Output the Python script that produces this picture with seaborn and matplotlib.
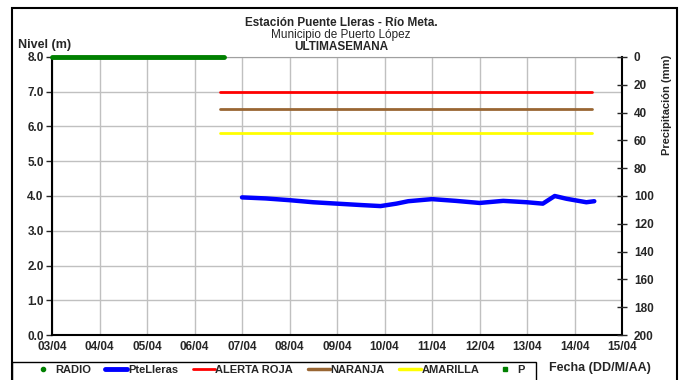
import pandas as pd
import seaborn as sns
import matplotlib.pyplot as plt
import matplotlib.dates as mdates
from matplotlib.lines import Line2D
from matplotlib.patches import Rectangle

# Nivel PteLleras (m)
nivel_fechas = ['2010-04-07 00:00', '2010-04-07 12:00', '2010-04-08 00:00', '2010-04-08 12:00',
                '2010-04-09 00:00', '2010-04-09 12:00', '2010-04-09 22:00', '2010-04-10 06:00',
                '2010-04-10 12:00', '2010-04-11 00:00', '2010-04-11 12:00', '2010-04-12 00:00',
                '2010-04-12 12:00', '2010-04-13 00:00', '2010-04-13 08:00', '2010-04-13 14:00',
                '2010-04-13 20:00', '2010-04-14 06:00', '2010-04-14 10:00']
nivel_valores = [3.96, 3.93, 3.88, 3.82, 3.78, 3.74, 3.71, 3.78, 3.85, 3.91, 3.86, 3.80,
                 3.86, 3.82, 3.78, 4.00, 3.92, 3.82, 3.85]

# Umbrales
umbral_fechas = ['2010-04-06 13:00', '2010-04-14 09:00']
alerta_roja = 7.0
naranja = 6.5
amarilla = 5.8

# Radio (linea verde superior)
radio_fechas = ['2010-04-03 00:00', '2010-04-06 15:00']
radio_valor = 8.0

ticks_x = pd.date_range('2010-04-03', '2010-04-15', freq='D')

sns.set_style('white')
plt.rcParams['font.family'] = ['Liberation Sans', 'DejaVu Sans']

fig = plt.figure(figsize=(6.82, 3.80), dpi=100)
ax = fig.add_axes([52 / 682, 45 / 380, 570 / 682, 278 / 380])

df_nivel = pd.DataFrame({'fecha': pd.to_datetime(nivel_fechas), 'nivel': nivel_valores})
df_radio = pd.DataFrame({'fecha': pd.to_datetime(radio_fechas), 'nivel': [radio_valor] * 2})
uf = pd.to_datetime(umbral_fechas)

for val, col in [(alerta_roja, '#ff0000'), (naranja, '#996633'), (amarilla, '#ffff00')]:
    sns.lineplot(x=uf, y=[val, val], color=col, lw=2, ax=ax)
sns.lineplot(data=df_nivel, x='fecha', y='nivel', color='#0000ff', lw=3.2, ax=ax)
sns.lineplot(data=df_radio, x='fecha', y='nivel', color='#008000', lw=3.5, ax=ax)
ax.lines[-1].set_clip_on(False)
ax.lines[-1].set_zorder(5)

ax.set_xlim(ticks_x[0], ticks_x[-1])
ax.set_ylim(0, 8)
ax.set_xticks(ticks_x)
ax.xaxis.set_major_formatter(mdates.DateFormatter('%d/%m'))
ax.set_yticks([i * 1.0 for i in range(9)])
ax.set_yticklabels([f'{i:.1f}' for i in range(9)])
ax.grid(True, color='#c0c0c0', lw=1)
ax.set_xlabel('')
ax.set_ylabel('')
for side in ['left', 'right', 'bottom']:
    ax.spines[side].set_color('black')
    ax.spines[side].set_linewidth(1.5)
ax.spines['top'].set_color('#a0a0a0')
ax.tick_params(axis='x', direction='inout', length=6, width=1, labelsize=8.5, pad=1)
ax.tick_params(axis='y', direction='out', length=4, width=1, labelsize=8.5, pad=2)
for lab in ax.get_xticklabels() + ax.get_yticklabels():
    lab.set_fontweight('bold')

ax2 = ax.twinx()
ax2.set_ylim(200, 0)
ax2.set_yticks(range(0, 201, 20))
ax2.tick_params(axis='y', direction='inout', length=7, width=1, labelsize=8.5, pad=5)
for lab in ax2.get_yticklabels():
    lab.set_fontweight('bold')
for s in ax2.spines.values():
    s.set_visible(False)
ax2.grid(False)

fig.text(0.5, (380 - 23) / 380, 'Estación Puente Lleras - Río Meta.', ha='center', va='center',
         fontsize=8.5, fontweight='bold')
fig.text(0.5, (380 - 35) / 380, 'Municipio de Puerto López', ha='center', va='center',
         fontsize=8.5)
fig.text(0.5, (380 - 47) / 380, 'ULTIMASEMANA', ha='center', va='center', fontsize=8.5,
         fontweight='bold')
fig.text(18 / 682, (380 - 45) / 380, 'Nivel (m)', ha='left', va='center', fontsize=9,
         fontweight='bold')
fig.text(667 / 682, (380 - 55) / 380, 'Precipitación (mm)', ha='center', va='top', fontsize=8,
         fontweight='bold', rotation=90)
fig.text(549 / 682, (380 - 368) / 380, 'Fecha (DD/M/AA)', ha='left', va='center', fontsize=9,
         fontweight='bold')

handles = [
    Line2D([], [], color='#008000', marker='o', ms=3, ls='none'),
    Line2D([], [], color='#0000ff', lw=3.5),
    Line2D([], [], color='#ff0000', lw=2),
    Line2D([], [], color='#996633', lw=2.5),
    Line2D([], [], color='#ffff00', lw=2.5),
    Line2D([], [], color='#008000', marker='s', ms=2.5, ls='none'),
]
labels = ['RADIO', 'PteLleras', 'ALERTA ROJA', 'NARANJA', 'AMARILLA', 'P']
fig.legend(handles, labels, loc='center left', bbox_to_anchor=(32 / 682, (380 - 370) / 380),
           ncol=6, prop={'weight': 'bold', 'size': 8}, frameon=False, handlelength=2.0,
           handletextpad=0.05, columnspacing=1.3, borderpad=0, borderaxespad=0)
fig.patches.append(Rectangle((12 / 682, -0.05), 524 / 682, (380 - 362) / 380 + 0.05,
                             transform=fig.transFigure, fill=False, edgecolor='black', lw=1))

fig.patches.append(Rectangle((12 / 682, -0.1), 665 / 682, 1.1 - 8 / 380, transform=fig.transFigure,
                             fill=False, edgecolor='black', lw=1.5))

fig.savefig('out.png', dpi=100)
